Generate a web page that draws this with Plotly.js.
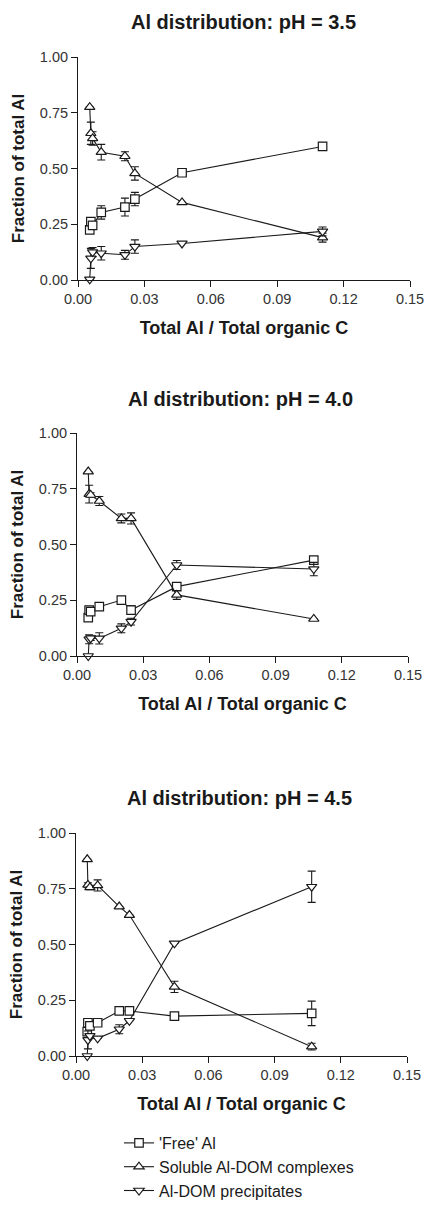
<!DOCTYPE html>
<html>
<head>
<meta charset="utf-8">
<script src="https://cdn.plot.ly/plotly-3.0.1.min.js"></script>
<style>
html,body{margin:0;padding:0;background:#fff;}
#chart{width:426px;height:1208px;}
</style>
</head>
<body>
<div id="chart"></div>
<script>
// ---------- data ----------
var seriesNames = ["'Free' Al", "Soluble Al-DOM complexes", "Al-DOM precipitates"];
var panelTitles = ["Al distribution: pH = 3.5", "Al distribution: pH = 4.0", "Al distribution: pH = 4.5"];
var xTicks = [0.00, 0.03, 0.06, 0.09, 0.12, 0.15];
var yTicks = [0.00, 0.25, 0.50, 0.75, 1.00];

// pH 3.5
var x35 = [0.0053, 0.0058, 0.0066, 0.0105, 0.0212, 0.0257, 0.0470, 0.1105];
var free35 = [0.225, 0.262, 0.245, 0.303, 0.327, 0.363, 0.481, 0.599];
var freeErr35 = [0, 0.012, 0.012, 0.030, 0.040, 0.030, 0, 0.015];
var sol35 = [0.775, 0.658, 0.635, 0.573, 0.555, 0.478, 0.348, 0.190];
var solErr35 = [0, 0.050, 0.030, 0.035, 0.020, 0.030, 0, 0.020];
var prec35 = [0.003, 0.097, 0.125, 0.120, 0.113, 0.150, 0.164, 0.218];
var precErr35 = [0, 0.045, 0.020, 0.030, 0.020, 0.030, 0, 0.020];

// pH 4.0
var x40 = [0.0051, 0.0055, 0.0062, 0.0101, 0.0201, 0.0245, 0.0452, 0.1073];
var free40 = [0.172, 0.206, 0.199, 0.221, 0.251, 0.206, 0.311, 0.430];
var freeErr40 = [0, 0.010, 0.010, 0, 0, 0.020, 0, 0];
var sol40 = [0.827, 0.726, 0.722, 0.695, 0.617, 0.617, 0.274, 0.166];
var solErr40 = [0, 0.040, 0.010, 0.020, 0.020, 0.025, 0.020, 0];
var prec40 = [0.000, 0.075, 0.080, 0.079, 0.124, 0.154, 0.408, 0.390];
var precErr40 = [0, 0.020, 0.010, 0.025, 0.020, 0.015, 0.020, 0.030];

// pH 4.5
var x45 = [0.0051, 0.0054, 0.0063, 0.0098, 0.0196, 0.0242, 0.0446, 0.1068];
var free45 = [0.109, 0.149, 0.135, 0.149, 0.202, 0.202, 0.179, 0.191];
var freeErr45 = [0, 0.010, 0.010, 0, 0, 0, 0.015, 0.055];
var sol45 = [0.882, 0.767, 0.756, 0.765, 0.670, 0.632, 0.310, 0.042];
var solErr45 = [0, 0.010, 0.010, 0.025, 0, 0, 0.025, 0.015];
var prec45 = [0.000, 0.072, 0.090, 0.079, 0.120, 0.158, 0.505, 0.759];
var precErr45 = [0, 0.040, 0.010, 0, 0.020, 0, 0, 0.070];

// ---------- build ----------
var panels = [
  {x: x35, ys: [free35, sol35, prec35], es: [freeErr35, solErr35, precErr35]},
  {x: x40, ys: [free40, sol40, prec40], es: [freeErr40, solErr40, precErr40]},
  {x: x45, ys: [free45, sol45, prec45], es: [freeErr45, solErr45, precErr45]}
];
var symbols = ['square', 'triangle-up', 'triangle-down'];
var sizes = [8.5, 9, 9];
var ink = '#1a1a1a';
var font = 'Liberation Sans, Arial, sans-serif';

var traces = [];
panels.forEach(function (p, pi) {
  var ax = pi === 0 ? '' : String(pi + 1);
  for (var s = 0; s < 3; s++) {
    traces.push({
      type: 'scatter', mode: 'lines+markers',
      x: p.x, y: p.ys[s],
      xaxis: 'x' + ax, yaxis: 'y' + ax,
      name: seriesNames[s],
      showlegend: pi === 0,
      legendgroup: 'g' + s,
      cliponaxis: false,
      line: {color: ink, width: 1.1},
      marker: {symbol: symbols[s], size: sizes[s], color: '#ffffff',
               line: {color: ink, width: 1.2}},
      error_y: {type: 'data', array: p.es[s], visible: true, color: ink, thickness: 1.1, width: 4}
    });
  }
});

var xDomains = [[78/426, 410/426], [77/426, 408/426], [76/426, 407/426]];
var yDomains = [[1-280/1208, 1-57/1208], [1-656/1208, 1-433/1208], [1-1056/1208, 1-833/1208]];
var titleY = [22, 399, 798];
var titleX = [243, 240, 239];

var layout = {
  width: 426, height: 1208,
  margin: {l: 0, r: 0, t: 0, b: 0},
  paper_bgcolor: '#ffffff', plot_bgcolor: '#ffffff',
  font: {family: font, color: ink, size: 14},
  showlegend: true,
  legend: {x: 119/426, xanchor: 'left', y: 0, yanchor: 'bottom',
           font: {family: font, size: 16, color: ink}, tracegroupgap: 0,
           bgcolor: 'rgba(0,0,0,0)', itemwidth: 30},
  annotations: []
};
for (var i = 0; i < 3; i++) {
  var ax = i === 0 ? '' : String(i + 1);
  layout['xaxis' + ax] = {
    domain: xDomains[i], range: [0, 0.15], anchor: 'y' + ax,
    tickmode: 'array', tickvals: xTicks, tickformat: '.2f',
    ticks: 'outside', ticklen: 6, tickwidth: 1, tickcolor: ink,
    showline: true, linecolor: ink, linewidth: 1, showgrid: false, zeroline: false,
    tickfont: {family: font, size: 14.5, color: '#333'},
    title: {text: 'Total Al / Total organic C', standoff: 14,
            font: {family: font, size: 18, color: ink, weight: 'bold'}}
  };
  layout['yaxis' + ax] = {
    domain: yDomains[i], range: [0, 1], anchor: 'x' + ax,
    tickmode: 'array', tickvals: yTicks, tickformat: '.2f',
    ticks: 'outside', ticklen: 6, tickwidth: 1, tickcolor: ink,
    showline: true, linecolor: ink, linewidth: 1, showgrid: false, zeroline: false,
    tickfont: {family: font, size: 14.5, color: '#333'},
    title: {text: 'Fraction of total Al', standoff: 10,
            font: {family: font, size: 17, color: ink, weight: 'bold'}}
  };
  layout.annotations.push({
    text: '<b>' + panelTitles[i] + '</b>', showarrow: false,
    xref: 'paper', yref: 'paper', x: titleX[i] / 426, y: 1 - titleY[i] / 1208,
    xanchor: 'center', yanchor: 'middle',
    font: {family: font, size: 20, color: ink}
  });
}

Plotly.newPlot('chart', traces, layout, {displayModeBar: false, staticPlot: true});
</script>
</body>
</html>
